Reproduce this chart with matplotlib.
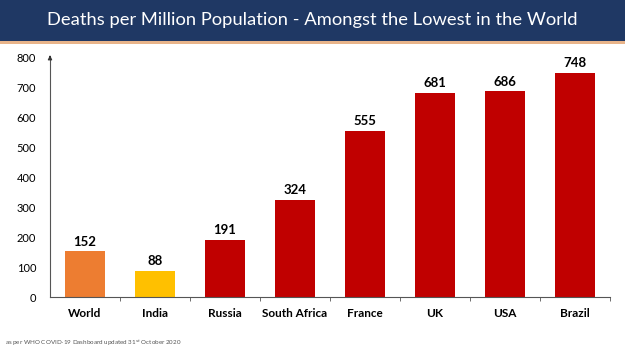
import matplotlib.pyplot as plt
from matplotlib.patches import Rectangle

laender = ['World', 'India', 'Russia', 'South Africa', 'France', 'UK', 'USA', 'Brazil']
todesfaelle = [152, 88, 191, 324, 555, 681, 686, 748]
farben = ['#ED7D31', '#FFC000', '#C00000', '#C00000', '#C00000', '#C00000', '#C00000', '#C00000']
y_ticks = [0, 100, 200, 300, 400, 500, 600, 700, 800]

plt.rcParams['font.family'] = ['Lato', 'DejaVu Sans']

fig = plt.figure(figsize=(6.25, 3.51), dpi=100)
fig.patch.set_facecolor('white')

# title bar
fig.patches.append(Rectangle((0, 1 - 41/351), 1, 41/351, transform=fig.transFigure,
                             facecolor='#1F3864', edgecolor='none', zorder=0))
fig.patches.append(Rectangle((0, 1 - 43.5/351), 1, 2.5/351, transform=fig.transFigure,
                             facecolor='#E8B48A', edgecolor='none', zorder=0))
fig.text(0.5, 1 - 20/351, 'Deaths per Million Population - Amongst the Lowest in the World',
         color='white', fontsize=13.2, ha='center', va='center')

ax = fig.add_axes([50/625, 1 - 297/351, 560/625, 240/351])
pos = range(len(laender))
bars = ax.bar(pos, todesfaelle, width=0.58, color=farben)
for b, v in zip(bars, todesfaelle):
    ax.text(b.get_x() + b.get_width()/2, v + 12, str(v), ha='center', va='bottom',
            fontsize=9.5, fontweight='bold', color='black')

ax.set_xlim(-0.5, 7.5)
ax.set_ylim(0, 800)
ax.set_yticks(y_ticks)
ax.tick_params(axis='y', length=0, labelsize=8, pad=10)
ax.set_xticks(list(pos))
ax.set_xticklabels(laender, fontsize=8.5, fontweight='bold')
ax.tick_params(axis='x', length=0, pad=8)
# tick marks between categories
ax.set_xticks([i + 0.5 for i in range(len(laender))], minor=True)
ax.tick_params(axis='x', which='minor', length=3, color='#555555')

for s in ['top', 'right']:
    ax.spines[s].set_visible(False)
ax.spines['left'].set_color('#555555')
ax.spines['bottom'].set_color('#555555')
ax.annotate('', xy=(-0.5, 815), xytext=(-0.5, 790), annotation_clip=False,
            arrowprops=dict(arrowstyle='-|>', color='#333333', lw=0.8, mutation_scale=6))

fig.text(5/625, 1 - 343/351, 'as per WHO COVID-19 Dashboard updated 31$^{st}$ October 2020',
         fontsize=4.5, color='#555555', ha='left', va='center')

fig.savefig('out.png', dpi=100)
